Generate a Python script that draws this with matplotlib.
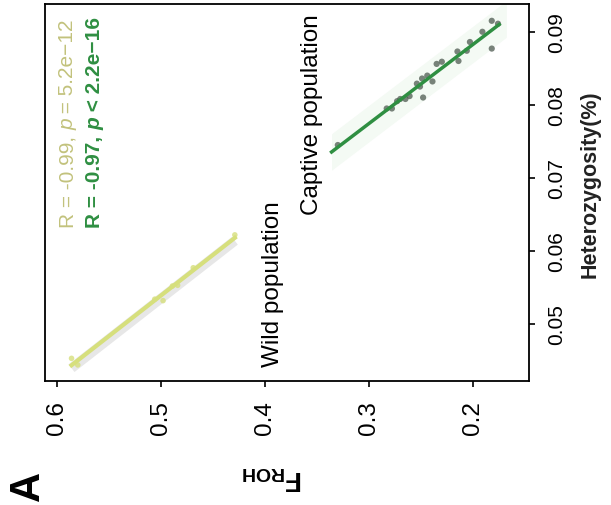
import numpy as np
import matplotlib
matplotlib.use("Agg")
import matplotlib.pyplot as plt

plt.rcParams['font.family'] = ['Liberation Sans', 'DejaVu Sans']
plt.rcParams['mathtext.fontset'] = 'custom'
plt.rcParams['mathtext.rm'] = 'Liberation Sans'
plt.rcParams['mathtext.it'] = 'Liberation Sans:italic'
plt.rcParams['mathtext.bf'] = 'Liberation Sans:bold'

# F_ROH vs heterozygosity, wild population
wild_froh = [0.586, 0.580, 0.506, 0.498, 0.489, 0.484, 0.469, 0.429]
wild_het = [0.0453, 0.0444, 0.0534, 0.0532, 0.0552, 0.0553, 0.0577, 0.0622]

# captive population
capt_froh = [0.330, 0.182, 0.176, 0.191, 0.203, 0.206, 0.182, 0.215, 0.214, 0.230,
             0.235, 0.239, 0.244, 0.249, 0.251, 0.254, 0.261, 0.265, 0.270, 0.273,
             0.248, 0.278, 0.283]
capt_het = [0.0745, 0.0915, 0.0911, 0.0900, 0.0886, 0.0874, 0.0877, 0.0873, 0.0860, 0.0859,
            0.0856, 0.0832, 0.0840, 0.0836, 0.0825, 0.0829, 0.0812, 0.0808, 0.0808, 0.0805,
            0.0810, 0.0795, 0.0795]

xticks = [0.6, 0.5, 0.4, 0.3, 0.2]
yticks = [0.05, 0.06, 0.07, 0.08, 0.09]

wild_stats = ['R = -0.99, ', 'p', ' = 5.2e\u221212']
capt_stats = ['R = -0.97, ', 'p', ' < 2.2e\u221216']

wild_col = '#d6df7c'
wild_txt = '#c2c27c'
capt_col = '#2f8f42'

fig = plt.figure(figsize=(6.11, 5.06), dpi=100)
ax = fig.add_axes([45/611, 1-382/506, 484/611, 377/506])

# wild: grey shadow band + line + points
wx = np.array(wild_froh); wy = np.array(wild_het)
k, b = np.polyfit(wx, wy, 1)
xs = np.linspace(wx.min(), wx.max(), 50)
ax.plot(xs, k*xs + b - 0.0004, color='#b0b0b0', lw=7, alpha=0.3, solid_capstyle='butt', zorder=1)
ax.plot(xs, k*xs + b, color=wild_col, lw=3, zorder=3)
ax.scatter(wx, wy, s=16, color=wild_col, alpha=0.8, edgecolors='none', zorder=2)

# captive: faint band + points + line
cx = np.array(capt_froh); cy = np.array(capt_het)
k2, b2 = np.polyfit(cx, cy, 1)
xs2 = np.linspace(cx.min() - 0.008, cx.max() + 0.006, 50)
ax.fill_between(xs2, k2*xs2 + b2 - 0.0025, k2*xs2 + b2 + 0.0025, color='#f4faf4', lw=0, zorder=0)
ax.scatter(cx, cy, s=20, color='#4d5a50', alpha=0.75, edgecolors='none', zorder=2)
ax.plot(xs2[2:], (k2*xs2 + b2)[2:], color=capt_col, lw=2.5, zorder=3)

ax.set_xlim(0.6115, 0.1462)
ax.set_ylim(0.0422, 0.0938)
ax.set_xticks(xticks)
ax.set_xticklabels([str(t) for t in xticks], rotation=90, fontsize=17.5)
ax.yaxis.tick_right()
ax.set_yticks(yticks)
ax.set_yticklabels([str(t) for t in yticks], rotation=90, va='center', fontsize=15)
ax.tick_params(axis='x', length=4, width=1.2, pad=10)
ax.tick_params(axis='y', length=4, width=1.2, pad=9)
for s in ax.spines.values():
    s.set_linewidth(1.3)


# rotated text built from pieces so p can be italic
def stat_text(x, y, parts, color, weight):
    t = ax.text(x, y, parts[0], rotation=90, ha='center', va='bottom', fontsize=15,
                color=color, fontweight=weight, transform=ax.transAxes)
    t = ax.annotate(parts[1], xy=(0.5, 1), xycoords=t, rotation=90, ha='center', va='bottom',
                    fontsize=15, color=color, fontweight=weight, fontstyle='italic')
    ax.annotate(parts[2], xy=(0.5, 1), xycoords=t, rotation=90, ha='center', va='bottom',
                fontsize=15, color=color, fontweight=weight)


stat_text(0.0475, 0.4085, wild_stats, wild_txt, 'normal')
stat_text(0.103, 0.4085, capt_stats, capt_col, 'bold')

ax.text(0.471, 0.040, 'Wild population', rotation=90, ha='center', va='bottom',
        fontsize=17.5, transform=ax.transAxes)
ax.text(0.552, 0.443, 'Captive population', rotation=90, ha='center', va='bottom',
        fontsize=17.5, transform=ax.transAxes)

fig.text(590/611, 1-184/506, 'Heterozygosity(%)', rotation=90, ha='center', va='center',
         fontsize=15.5, fontweight='bold', color='#222222')
fig.text(272/611, 1-478/506, r'$\mathbf{F_{ROH}}$', rotation=180, ha='center', va='center',
         fontsize=20)
fig.text(28/611, 1-486/506, 'A', rotation=90, ha='center', va='center', fontsize=30, fontweight='bold')
fig.text(620/611, 1-516/506, 'B', rotation=90, ha='center', va='center', fontsize=30, fontweight='bold')

fig.savefig('out.png', dpi=100)
